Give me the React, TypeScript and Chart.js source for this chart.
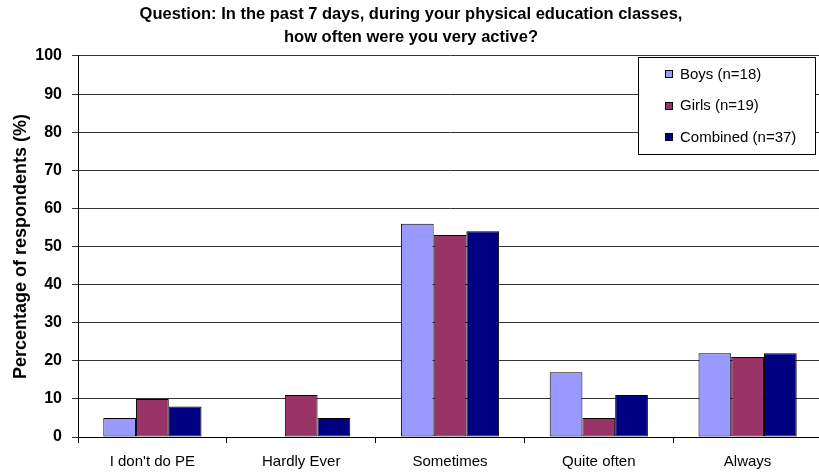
import React, { useEffect, useRef } from "react";
import { Chart, registerables } from "chart.js";

Chart.register(...registerables);

const categories = ["I don't do PE", "Hardly Ever", "Sometimes", "Quite often", "Always"];
const boys = [5, 0, 56, 17, 22];
const girls = [10, 11, 53, 5, 21];
const combined = [8, 5, 54, 11, 22];
const seriesLabels = ["Boys (n=18)", "Girls (n=19)", "Combined (n=37)"];
const titleLines = [
  "Question: In the past 7 days, during your physical education classes,",
  "how often were you very active?",
];
const yAxisTitle = "Percentage of respondents (%)";

const FONT = "'Liberation Sans', Arial, Helvetica, sans-serif";
const W = 830;
const H = 472;

const boxLegend = {
  id: "boxLegend",
  afterDraw(chart: any) {
    const ctx = chart.ctx;
    const area = chart.chartArea;
    const bx = 638.5;
    const by = area.top + 1.5;
    const bw = 177;
    const bh = 97;
    ctx.save();
    ctx.fillStyle = "#ffffff";
    ctx.fillRect(bx, by, bw, bh);
    ctx.strokeStyle = "#000000";
    ctx.lineWidth = 1;
    ctx.strokeRect(bx, by, bw, bh);
    ctx.font = `15px ${FONT}`;
    ctx.textBaseline = "middle";
    ctx.textAlign = "left";
    chart.data.datasets.forEach((ds: any, i: number) => {
      const cy = by + 17 + i * 31.5;
      ctx.fillStyle = ds.backgroundColor;
      ctx.fillRect(665.5, Math.round(cy) - 3.5, 7, 7);
      ctx.strokeStyle = "#000";
      ctx.strokeRect(665.5, Math.round(cy) - 3.5, 7, 7);
      ctx.fillStyle = "#000";
      ctx.fillText(ds.label, 680, cy);
    });
    ctx.restore();
  },
};

export default function App() {
  const ref = useRef<HTMLCanvasElement | null>(null);
  useEffect(() => {
    if (!ref.current) return;
    const chart = new Chart(ref.current, {
      type: "bar",
      data: {
        labels: categories,
        datasets: [
          { label: seriesLabels[0], data: boys, backgroundColor: "#9999FF" },
          { label: seriesLabels[1], data: girls, backgroundColor: "#993366" },
          { label: seriesLabels[2], data: combined, backgroundColor: "#000080" },
        ].map((d) => ({
          ...d,
          borderColor: "#000000",
          borderWidth: 1,
          borderSkipped: false,
          categoryPercentage: 0.66,
          barPercentage: 1,
        })),
      },
      options: {
        responsive: false,
        animation: false,
        devicePixelRatio: 1,
        layout: { padding: { left: 0, right: 8, top: 0, bottom: 0 } },
        plugins: {
          legend: { display: false },
          tooltip: { enabled: false },
          title: {
            display: true,
            text: titleLines,
            color: "#000",
            font: { family: FONT, size: 16.5, weight: "bold", lineHeight: 1.3939 },
            padding: { top: 3, bottom: 7 },
          },
        },
        scales: {
          x: {
            grid: {
              display: true,
              drawOnChartArea: false,
              drawTicks: true,
              tickLength: 6,
              color: "#000",
              offset: true,
            },
            border: { display: true, color: "#000", width: 1 },
            ticks: {
              color: "#000",
              font: { family: FONT, size: 15 },
              padding: 10,
              maxRotation: 0,
              autoSkip: false,
            },
            afterFit: (s: any) => {
              s.height = 35;
            },
          },
          y: {
            min: 0,
            max: 100,
            ticks: {
              stepSize: 10,
              color: "#000",
              font: { family: FONT, size: 16, weight: "bold" },
              padding: 10,
            },
            grid: { color: "#333", tickLength: 6, lineWidth: 1 },
            border: { display: true, color: "#000", width: 1 },
            title: {
              display: true,
              text: yAxisTitle,
              color: "#000",
              font: { family: FONT, size: 18, weight: "bold" },
              padding: { top: 10, bottom: 0 },
            },
            afterFit: (s: any) => {
              s.width = 78;
            },
          },
        },
      },
      plugins: [boxLegend],
    });
    return () => chart.destroy();
  }, []);
  return (
    <div
      style={{
        position: "fixed",
        left: 0,
        top: 0,
        width: 819,
        height: 472,
        overflow: "hidden",
        background: "#fff",
      }}
    >
      <canvas ref={ref} width={W} height={H} style={{ display: "block", width: W, height: H }} />
    </div>
  );
}
